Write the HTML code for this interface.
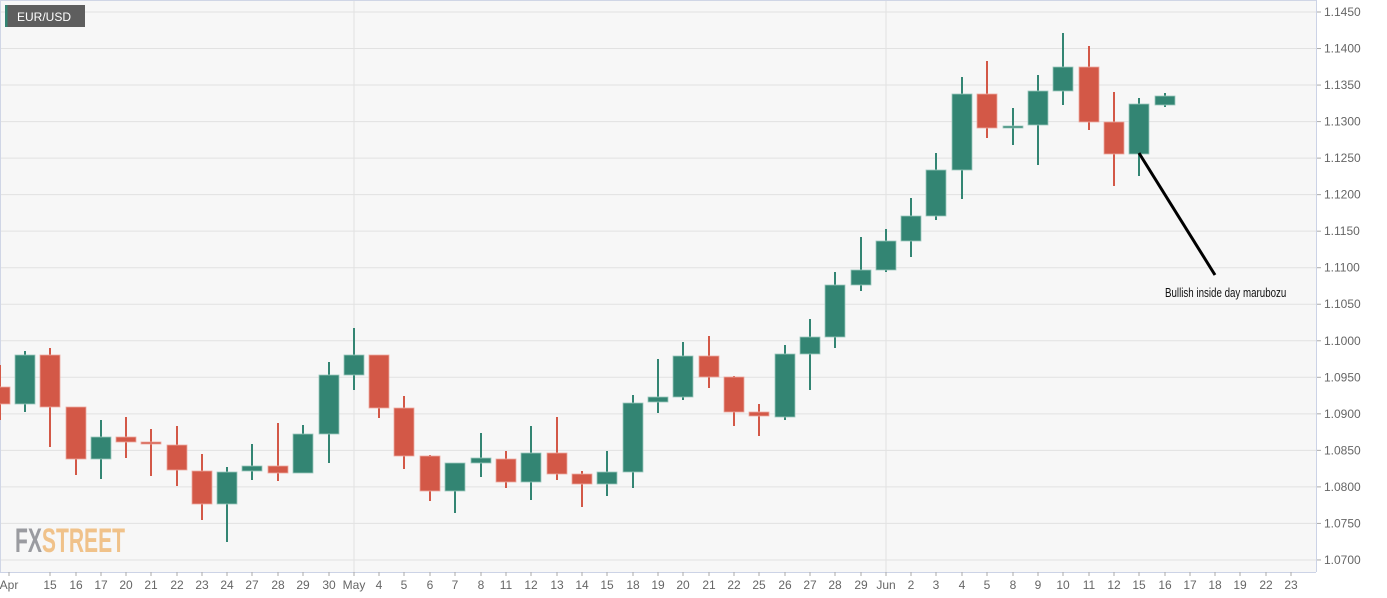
<!DOCTYPE html>
<html><head><meta charset="utf-8"><style>
html,body{margin:0;padding:0;background:#fff;}
svg{display:block;font-family:"Liberation Sans",sans-serif;}
</style></head><body>
<svg id="c" width="1387" height="598" xmlns="http://www.w3.org/2000/svg"></svg>
<script>
var s='';
s+='<rect x="0" y="0" width="1316" height="572" fill="#f7f7f7"/>';
for(var i=0;i<=15;i++){var y=12+i*36.53;s+='<line x1="0" x2="1316" y1="'+y+'" y2="'+y+'" stroke="#e2e2e2" stroke-width="1"/>';
s+='<line x1="1316" x2="1321" y1="'+y+'" y2="'+y+'" stroke="#aaa"/>';
s+='<text x="1324" y="'+(y+4)+'" font-size="12" fill="#666">'+(1.145-i*0.005).toFixed(4)+'</text>';}
s+='<line x1="354" x2="354" y1="0" y2="572" stroke="#e2e2e2"/><line x1="886" x2="886" y1="0" y2="572" stroke="#e2e2e2"/>';
s+='<line x1="0" x2="1316" y1="0.5" y2="0.5" stroke="#d0d6e6"/><line x1="0.5" x2="0.5" y1="0" y2="572" stroke="#d0d6e6"/>';
s+='<line x1="1316.5" x2="1316.5" y1="0" y2="572" stroke="#ccd3e6"/><line x1="0" x2="1316" y1="572.5" y2="572.5" stroke="#ccd3e6"/>';
var d=[[0,'r',387,404,365,420],[25,'g',355,404,351,412],[50,'r',355,407,348,447],[76,'r',407,459,407,475],[101,'g',437,459,420,479],
[126,'r',437,442,417,458],[151,'r',442,444,429,476],[177,'r',445,470,426,486],[202,'r',471,504,454,520],[227,'g',472,504,467,542],
[252,'g',466,471,444,480],[278,'r',466,473,423,481],[303,'g',434,473,425,473],[329,'g',375,434,362,463],[354,'g',355,375,328,390],
[379,'r',355,408,355,418],[404,'r',408,456,396,469],[430,'r',456,491,455,501],[455,'g',463,491,463,513],[481,'g',458,463,433,477],
[506,'r',459,482,451,488],[531,'g',453,482,426,500],[557,'r',453,474,417,480],[582,'r',474,484,471,507],[607,'g',472,484,451,496],
[633,'g',403,472,395,488],[658,'g',397,402,359,413],[683,'g',356,397,342,400],[709,'r',356,377,336,388],[734,'r',377,412,376,426],
[759,'r',412,416,404,436],[785,'g',354,417,345,420],[810,'g',337,354,319,390],[835,'g',285,337,272,348],[861,'g',270,285,237,291],
[886,'g',241,270,229,272],[911,'g',216,241,198,257],[936,'g',170,216,153,220],[962,'g',94,170,77,199],[987,'r',94,128,61,138],
[1013,'g',126,128,108,145],[1038,'g',91,125,75,165],[1063,'g',67,91,33,105],[1089,'r',67,122,46,130],[1114,'r',122,154,92,186],
[1139,'g',104,154,98,176],[1165,'g',96,105,93,107]];
d.forEach(function(c){var col=c[1]=='g'?'#338573':'#d35847',st=c[1]=='g'?'#9cc7bc':'#eda99f';
s+='<line x1="'+c[0]+'" x2="'+c[0]+'" y1="'+c[4]+'" y2="'+c[5]+'" stroke="'+col+'" stroke-width="2"/>';
var h=Math.max(c[3]-c[2],2);
s+='<rect x="'+(c[0]-10)+'" y="'+c[2]+'" width="20" height="'+h+'" fill="'+col+'" stroke="'+st+'" stroke-width="0.8"/>';});
var L=[[9,'Apr'],[50,'15'],[76,'16'],[101,'17'],[126,'20'],[151,'21'],[177,'22'],[202,'23'],[227,'24'],[252,'27'],[278,'28'],[303,'29'],[329,'30'],[354,'May'],[379,'4'],[404,'5'],[430,'6'],[455,'7'],[481,'8'],[506,'11'],[531,'12'],[557,'13'],[582,'14'],[607,'15'],[633,'18'],[658,'19'],[683,'20'],[709,'21'],[734,'22'],[759,'25'],[785,'26'],[810,'27'],[835,'28'],[861,'29'],[886,'Jun'],[911,'2'],[936,'3'],[962,'4'],[987,'5'],[1013,'8'],[1038,'9'],[1063,'10'],[1089,'11'],[1114,'12'],[1139,'15'],[1165,'16'],[1190,'17'],[1215,'18'],[1240,'19'],[1266,'22'],[1291,'23']];
L.forEach(function(l){s+='<line x1="'+l[0]+'" x2="'+l[0]+'" y1="572" y2="576" stroke="#aaa"/><text x="'+l[0]+'" y="589" font-size="12" fill="#666" text-anchor="middle">'+l[1]+'</text>';});
s+='<rect x="5" y="5" width="80" height="22" fill="#5e5e5e"/><rect x="5" y="5" width="2.5" height="22" fill="#338573"/>';
s+='<text x="17" y="21" font-size="12" fill="#fff">EUR/USD</text>';
s+='<g transform="translate(15,552) scale(0.62,1)"><text x="0" y="0" font-size="34" font-weight="bold"><tspan fill="#9a9ba0">FX</tspan><tspan fill="#f0c28a">STREET</tspan></text></g>';
s+='<line x1="1139" y1="153" x2="1215" y2="275" stroke="#000" stroke-width="3"/>';
s+='<g transform="translate(1165,297) scale(0.75,1)"><text x="0" y="0" font-size="13" fill="#111">Bullish inside  day marubozu</text></g>';
document.getElementById('c').innerHTML=s;
</script>
</body></html>
